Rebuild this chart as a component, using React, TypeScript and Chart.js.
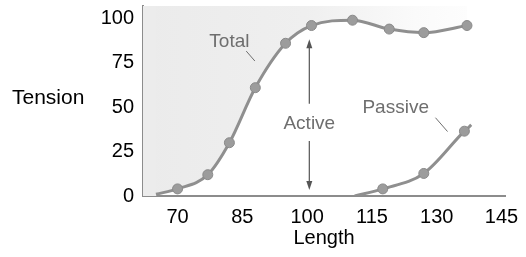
import React, { useEffect, useRef } from "react";
import { Chart, registerables } from "chart.js";
Chart.register(...registerables);

// ---- data ----
const xTickValues = [70, 85, 100, 115, 130, 145];
const yTickValues = [0, 25, 50, 75, 100];
const totalLength = [65, 70, 77, 82, 88, 95, 101, 110.5, 119, 127, 137];
const totalTension = [1, 4, 12, 30, 61, 86, 96, 99, 94, 92, 96];
const totalMarker = [false, true, true, true, true, true, true, true, true, true, true];
const passiveLength = [111, 117.5, 127, 136.4, 138];
const passiveTension = [0, 4, 12.7, 36.5, 40];
const passiveMarker = [false, true, true, true, false];
const xAxisTitle = "Length";
const yAxisTitle = "Tension";
const seriesLabels = ["Total", "Passive"];
const activeLabel = "Active";

const FONT = "Liberation Sans, Arial, Helvetica, sans-serif";
const LINE = "#8f8f8f";
const POINT = "#9c9c9c";
const TEXT_GRAY = "#6e6e6e";
const BG_GRAY = "#ececec";

export default function App() {
  const ref = useRef<HTMLCanvasElement | null>(null);
  useEffect(() => {
    document.body.style.margin = "0";
    const canvas = ref.current;
    if (!canvas) return;

    const annot = {
      id: "annot",
      beforeDatasetsDraw(chart: any) {
        const { ctx, chartArea, scales } = chart;
        const x = scales.x;
        ctx.save();
        ctx.fillStyle = BG_GRAY;
        const xr = x.getPixelForValue(totalLength[0]);
        ctx.fillRect(chartArea.left, chartArea.top, xr - chartArea.left + 0.5, chartArea.bottom - chartArea.top);
        ctx.restore();
      },
      afterDatasetsDraw(chart: any) {
        const { ctx, scales, chartArea } = chart;
        const x = scales.x;
        const y = scales.y;
        ctx.save();
        ctx.fillStyle = "#000";
        ctx.font = `21px ${FONT}`;
        ctx.textAlign = "left";
        ctx.textBaseline = "middle";
        ctx.fillText(yAxisTitle, 12, 98);
        ctx.font = `20px ${FONT}`;
        ctx.textAlign = "center";
        ctx.fillText(xAxisTitle, (chartArea.left + chartArea.right) / 2, 238);

        ctx.fillStyle = TEXT_GRAY;
        ctx.font = `19px ${FONT}`;
        ctx.fillText(seriesLabels[0], x.getPixelForValue(82), y.getPixelForValue(87));
        ctx.strokeStyle = TEXT_GRAY;
        ctx.lineWidth = 1;
        ctx.beginPath();
        ctx.moveTo(x.getPixelForValue(85.9), y.getPixelForValue(81.6));
        ctx.lineTo(x.getPixelForValue(87.9), y.getPixelForValue(76));
        ctx.stroke();

        ctx.fillText(seriesLabels[1], x.getPixelForValue(120.5), y.getPixelForValue(49.7));
        ctx.beginPath();
        ctx.moveTo(x.getPixelForValue(129.7), y.getPixelForValue(44.1));
        ctx.lineTo(x.getPixelForValue(132.5), y.getPixelForValue(36.3));
        ctx.stroke();

        const ax = x.getPixelForValue(100.5);
        ctx.fillText(activeLabel, ax, y.getPixelForValue(40.5));
        const yTop = y.getPixelForValue(88.3);
        const yUp = y.getPixelForValue(52);
        const yLo = y.getPixelForValue(31);
        const yBot = y.getPixelForValue(3.4);
        ctx.strokeStyle = "#555";
        ctx.lineWidth = 1.2;
        ctx.beginPath();
        ctx.moveTo(ax, yTop + 4);
        ctx.lineTo(ax, yUp);
        ctx.moveTo(ax, yLo);
        ctx.lineTo(ax, yBot - 4);
        ctx.stroke();
        ctx.fillStyle = "#555";
        ctx.beginPath();
        ctx.moveTo(ax, yTop);
        ctx.lineTo(ax - 3, yTop + 9);
        ctx.lineTo(ax + 3, yTop + 9);
        ctx.closePath();
        ctx.fill();
        ctx.beginPath();
        ctx.moveTo(ax, yBot);
        ctx.lineTo(ax - 3, yBot - 9);
        ctx.lineTo(ax + 3, yBot - 9);
        ctx.closePath();
        ctx.fill();
        ctx.restore();
      },
    };

    const fillGradient = (c: any) => {
      const area = c.chart.chartArea;
      if (!area) return BG_GRAY;
      const g = c.chart.ctx.createLinearGradient(area.left, 0, area.right, 0);
      g.addColorStop(0, "#ebebeb");
      g.addColorStop(0.45, "#efefef");
      g.addColorStop(0.75, "#fafafa");
      g.addColorStop(1, "#ffffff");
      return g;
    };

    const chart = new Chart(canvas, {
      type: "line",
      data: {
        datasets: [
          {
            label: seriesLabels[0],
            data: totalLength.map((v, i) => ({ x: v, y: totalTension[i] })),
            borderColor: LINE,
            borderWidth: 3,
            backgroundColor: fillGradient,
            fill: "end",
            cubicInterpolationMode: "monotone",
            pointRadius: totalMarker.map((m) => (m ? 5 : 0)),
            pointBackgroundColor: POINT,
            pointBorderColor: "#8a8a8a",
            pointBorderWidth: 1,
          },
          {
            label: seriesLabels[1],
            data: passiveLength.map((v, i) => ({ x: v, y: passiveTension[i] })),
            borderColor: LINE,
            borderWidth: 3,
            fill: false,
            cubicInterpolationMode: "monotone",
            pointRadius: passiveMarker.map((m) => (m ? 5 : 0)),
            pointBackgroundColor: POINT,
            pointBorderColor: "#8a8a8a",
            pointBorderWidth: 1,
          },
        ],
      },
      options: {
        responsive: false,
        animation: false,
        layout: { padding: { top: 0, right: 21, left: 0, bottom: 0 } },
        plugins: { legend: { display: false }, tooltip: { enabled: false } },
        scales: {
          x: {
            type: "linear",
            min: 62,
            max: 145.8,
            afterFit: (s: any) => {
              s.height = 61;
              s.paddingLeft = 0;
              s.paddingRight = 0;
            },
            afterBuildTicks: (s: any) => {
              s.ticks = xTickValues.map((v) => ({ value: v }));
            },
            grid: { display: false, drawTicks: false },
            border: { display: true, color: "#8c8c8c", width: 2 },
            ticks: { color: "#000", font: { family: FONT, size: 20 }, padding: 9, maxRotation: 0, autoSkip: false },
          },
          y: {
            type: "linear",
            min: 0,
            max: 107,
            afterFit: (s: any) => {
              s.width = 143;
              s.paddingTop = 0;
              s.paddingBottom = 0;
            },
            afterBuildTicks: (s: any) => {
              s.ticks = yTickValues.map((v) => ({ value: v }));
            },
            grid: { display: false, drawTicks: false },
            border: { display: true, color: "#8c8c8c", width: 2 },
            ticks: { color: "#000", font: { family: FONT, size: 20 }, padding: 9 },
          },
        },
      },
      plugins: [annot],
    } as any);
    return () => chart.destroy();
  }, []);
  return <canvas ref={ref} width={526} height={257} style={{ display: "block" }} />;
}
